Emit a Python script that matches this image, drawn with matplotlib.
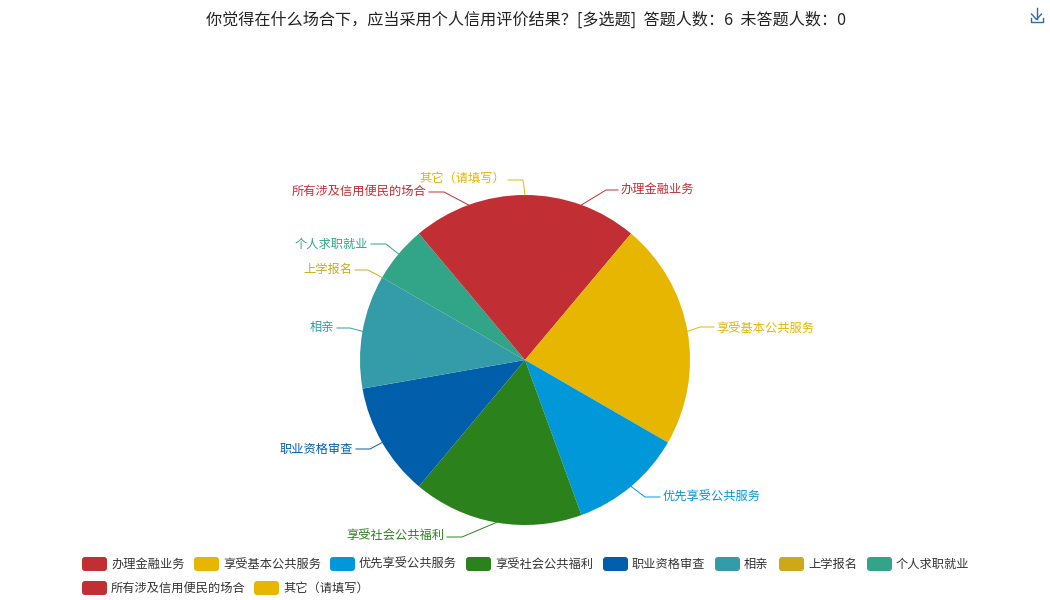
import numpy as np
import matplotlib
matplotlib.use("Agg")
import matplotlib.pyplot as plt
from matplotlib.patches import FancyBboxPatch

plt.rcParams['font.family'] = ['Noto Sans CJK SC', 'DejaVu Sans']

title = "你觉得在什么场合下，应当采用个人信用评价结果？[多选题]  答题人数：6  未答题人数：0"
categories = ["办理金融业务", "享受基本公共服务", "优先享受公共服务", "享受社会公共福利", "职业资格审查",
              "相亲", "上学报名", "个人求职就业", "所有涉及信用便民的场合", "其它（请填写）"]
values = [2, 4, 2, 3, 2, 2, 0, 1, 2, 0]
colors = ["#c12e34", "#e6b600", "#0098d9", "#2b821d", "#005eaa",
          "#339ca8", "#cda819", "#32a487", "#c12e34", "#e6b600"]

# pixel layout, y measured from the top of the image
W, H = 1050, 600
cx, cy, radius = 525, 360, 165
# elbow of each leader line, then where the line stops
elbows = [(606, 190), (700, 327), (645, 497), (462, 537), (370, 449),
          (350, 328), (368, 270), (386, 244), (444, 192), (523, 180)]
line_ends = [(618, 190), (714, 327), (660, 497), (447, 537), (356, 449),
             (337, 328), (355, 270), (371, 244), (429, 192), (508, 180)]
label_y = [189.5, 328, 497, 535.5, 449, 327.5, 269, 244, 191, 178]
legend_x = [82, 194, 330, 466, 603, 715, 779, 867, 82, 254]
legend_y = [564, 564, 564, 564, 564, 564, 564, 564, 588, 588]

fig = plt.figure(figsize=(W / 100, H / 100), dpi=100)
ax = fig.add_axes([0, 0, 1, 1])

ax.pie(values, colors=colors, startangle=90, counterclock=False, radius=radius,
       center=(cx, H - cy), wedgeprops={"linewidth": 0}, frame=True)
ax.set_xlim(0, W)
ax.set_ylim(0, H)
ax.axis("off")

# leader lines and labels, starting from the middle of each slice
total = sum(values)
start = 0
for i, name in enumerate(categories):
    mid = np.radians((start + values[i] / 2) / total * 360)
    start += values[i]
    x0 = cx + radius * np.sin(mid)
    y0 = cy - radius * np.cos(mid)
    ex, ey = elbows[i]
    lx, ly = line_ends[i]
    ax.plot([x0, ex, lx], [H - y0, H - ey, H - ly], color=colors[i], lw=0.7, solid_joinstyle="miter")
    if lx > ex:
        ax.text(lx + 2.5, H - label_y[i], name, color=colors[i], fontsize=8.8, va="center", ha="left")
    else:
        ax.text(lx - 2.5, H - label_y[i], name, color=colors[i], fontsize=8.8, va="center", ha="right")

# legend
for i, name in enumerate(categories):
    ax.add_patch(FancyBboxPatch((legend_x[i], H - legend_y[i] - 7), 25, 14,
                                boxstyle="round,pad=0,rounding_size=3", mutation_aspect=1,
                                fc=colors[i], ec="none", lw=0))
    ax.text(legend_x[i] + 29, H - legend_y[i] - 0.5, name, color="#333333", fontsize=8.8, va="center", ha="left")

ax.text(525.5, H - 20.5, title, color="#222222", fontsize=11.6, va="center", ha="center")

# download icon
icon = "#2f6aa8"
ax.plot([1036.5, 1036.5], [H - 8, H - 19], color=icon, lw=1)
ax.plot([1031.5, 1036.5, 1041.5], [H - 14, H - 19.5, H - 14], color=icon, lw=1)
ax.plot([1030.5, 1030.5, 1043, 1043], [H - 18, H - 22, H - 22, H - 18], color=icon, lw=1)

fig.savefig("out.png", dpi=100)
